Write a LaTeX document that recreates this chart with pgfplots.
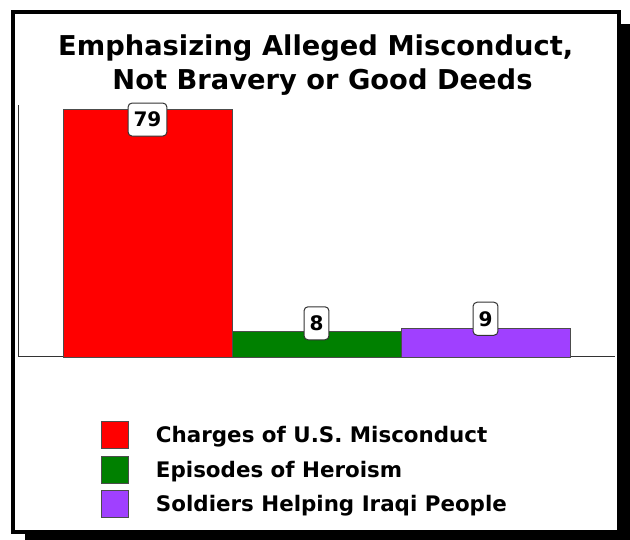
\documentclass[border=0pt]{standalone}
\usepackage{fontspec}
\setmainfont{DejaVu Sans}
\usepackage{pgfplots}
\pgfplotsset{compat=1.18}
\definecolor{barred}{RGB}{255,0,0}
\definecolor{bargreen}{RGB}{0,128,0}
\definecolor{barpurple}{RGB}{160,64,255}
\pgfplotsset{
  mylegend/.style={legend image code/.code={\draw[##1, line width=0.8pt, draw=black!70] (0pt,-13.5pt) rectangle (27pt,13.5pt);}},
}
\begin{document}
\begin{tikzpicture}[x=1pt,y=1pt]
\path (0,0) rectangle (630,540);
\fill[black] (25,0) rectangle (630,516);
\draw[line width=4pt, fill=white] (13,8) rectangle (619,528);
\node[anchor=base, font=\fontsize{27.3}{27.3}\selectfont\bfseries, inner sep=0pt] at (315.7,484.3) {Emphasizing Alleged Misconduct,};
\node[anchor=base, font=\fontsize{27.3}{27.3}\selectfont\bfseries, inner sep=0pt] at (322.5,450.7) {Not Bravery or Good Deeds};
\begin{axis}[
  at={(18pt,183pt)}, anchor=south west,
  scale only axis, width=597pt, height=252pt,
  xmin=-0.766, xmax=2.766, ymin=0, ymax=80.3,
  axis x line=bottom, axis y line=left,
  axis line style={-, line width=1pt, draw=black!80},
  xtick=\empty, ytick=\empty,
  clip=false,
  /pgf/number format/assume math mode=true,
  nodes near coords,
  every node near coord/.append style={anchor=center, draw=black!80, fill=white, rounded corners=4pt, line width=1pt, inner xsep=5.5pt, inner ysep=0pt, minimum height=33pt, font=\fontsize{20}{20}\selectfont\bfseries, text=black},
  legend style={at={(0.139,-0.254)}, anchor=north west, draw=none, fill=none, inner sep=0pt,
    font=\fontsize{21.4}{21.4}\selectfont\bfseries, row sep=6.5pt,
    nodes={inner sep=0pt, text height=15.5pt, text depth=0pt},
    /tikz/every odd column/.append style={column sep=27pt}},
  legend cell align=left,
]
\addplot[ybar, bar width=169pt, bar shift=0pt, fill=barred, draw=black!70, line width=0.8pt, mylegend,
  every node near coord/.append style={yshift=-10.5pt}] coordinates {(0,79)};
\addplot[ybar, bar width=169pt, bar shift=0pt, fill=bargreen, draw=black!70, line width=0.8pt, mylegend,
  every node near coord/.append style={yshift=8.6pt}] coordinates {(1,8)};
\addplot[ybar, bar width=169pt, bar shift=0pt, fill=barpurple, draw=black!70, line width=0.8pt, mylegend,
  every node near coord/.append style={yshift=10pt}] coordinates {(2,9)};
\legend{Charges of U.S. Misconduct, Episodes of Heroism, Soldiers Helping Iraqi People}
\end{axis}
\end{tikzpicture}
\end{document}
